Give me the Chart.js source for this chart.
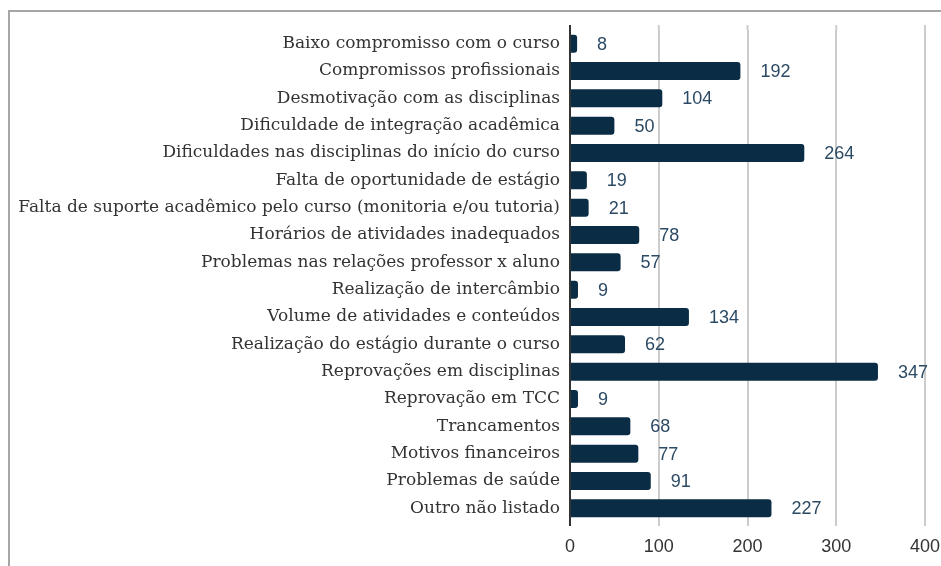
<!DOCTYPE html>
<html><head><meta charset="utf-8">
<script src="https://cdn.jsdelivr.net/npm/chart.js@4/dist/chart.umd.min.js"></script>
<style>
html,body{margin:0;padding:0;background:#fff;width:941px;height:566px;overflow:hidden;}
#wrap{position:relative;left:0;top:0;width:941px;height:566px;overflow:hidden;}
#frame{position:absolute;left:8px;top:10px;width:2000px;height:2000px;border-left:2px solid #a6a6a6;border-top:2px solid #a6a6a6;}
canvas{position:absolute;left:0;top:0;}
</style></head>
<body>
<div id="wrap"><div id="frame"></div><canvas id="c" width="941" height="566"></canvas></div>
<script>
const categories = [
  "Baixo compromisso com o curso",
  "Compromissos profissionais",
  "Desmotivação com as disciplinas",
  "Dificuldade de integração acadêmica",
  "Dificuldades nas disciplinas do início do curso",
  "Falta de oportunidade de estágio",
  "Falta de suporte acadêmico pelo curso (monitoria e/ou tutoria)",
  "Horários de atividades inadequados",
  "Problemas nas relações professor x aluno",
  "Realização de intercâmbio",
  "Volume de atividades e conteúdos",
  "Realização do estágio durante o curso",
  "Reprovações em disciplinas",
  "Reprovação em TCC",
  "Trancamentos",
  "Motivos financeiros",
  "Problemas de saúde",
  "Outro não listado"
];
const values = [8,192,104,50,264,19,21,78,57,9,134,62,347,9,68,77,91,227];
const xTicks = [0,100,200,300,400];

const valueLabels = {
  id:'valueLabels',
  afterDatasetsDraw(chart){
    const ctx = chart.ctx;
    const meta = chart.getDatasetMeta(0);
    ctx.save();
    ctx.font = '18px "Liberation Sans", Arial, sans-serif';
    ctx.fillStyle = '#2c4a64';
    ctx.textAlign = 'left';
    ctx.textBaseline = 'middle';
    meta.data.forEach((bar,i)=>{
      ctx.fillText(String(values[i]), bar.x + 20, bar.y + 1);
    });
    ctx.restore();
  }
};

const lineExt = {
  id:'lineExt',
  afterDraw(chart){
    const ctx = chart.ctx, xs = chart.scales.x, a = chart.chartArea;
    ctx.save();
    xTicks.forEach(v=>{
      const px = xs.getPixelForValue(v);
      ctx.beginPath();
      if (v === 0) {
        ctx.strokeStyle = '#333333'; ctx.lineWidth = 2;
        ctx.moveTo(px, a.top - 5); ctx.lineTo(px, a.bottom + 4);
      } else {
        ctx.strokeStyle = '#cccccc'; ctx.lineWidth = 2;
        ctx.moveTo(px, a.top - 5); ctx.lineTo(px, a.top);
      }
      ctx.stroke();
    });
    ctx.restore();
  }
};

new Chart(document.getElementById('c'), {
  type:'bar',
  data:{labels:categories, datasets:[{data:values, backgroundColor:'#0a2c44', borderRadius:3, borderSkipped:'start', barPercentage:0.66, categoryPercentage:1}]},
  options:{
    indexAxis:'y', responsive:false, animation:false,
    layout:{padding:{top:30,right:16,left:0,bottom:0}},
    plugins:{legend:{display:false}, tooltip:{enabled:false}},
    scales:{
      x:{min:0,max:400,
        afterBuildTicks(s){ s.ticks = xTicks.map(v=>({value:v})); },
        afterFit(s){ s.height = 44; s.paddingLeft = 0; s.paddingRight = 0; },
        grid:{color:'#cccccc', lineWidth:2, drawTicks:true, tickLength:4},
        border:{display:false},
        ticks:{font:{family:'"Liberation Sans", Arial, sans-serif', size:18}, color:'#333333', padding:10}
      },
      y:{
        afterFit(s){ s.width = 570; s.paddingTop = 0; s.paddingBottom = 0; },
        grid:{display:false},
        border:{display:true,color:'#333333',width:2},
        ticks:{font:{family:'"DejaVu Serif", serif', size:17}, color:'#333333', padding:2}
      }
    }
  },
  plugins:[valueLabels, lineExt]
});
</script>
</body></html>
